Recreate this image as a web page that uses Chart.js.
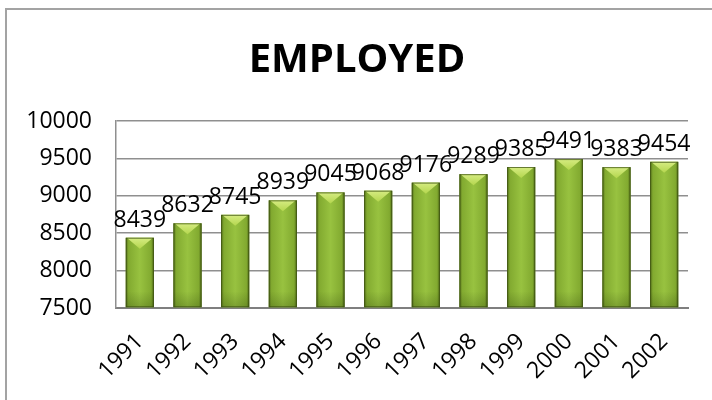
<!DOCTYPE html>
<html>
<head>
<meta charset="utf-8">
<script src="https://cdn.jsdelivr.net/npm/chart.js@4"></script>
<style>
    body { margin: 0; background: #fff; }
    #frame {
        position: absolute; left: 5px; top: 8px; width: 800px; height: 500px;
        border-left: 2px solid #a3a3a3; border-top: 2px solid #a3a3a3;
    }
    #employedChart { position: absolute; left: 0; top: 0; }
</style>
</head>
<body>
<div id="frame"></div>
<canvas id="employedChart" width="712" height="400"></canvas>
<script>
// Chart data
const years = ['1991', '1992', '1993', '1994', '1995', '1996', '1997', '1998', '1999', '2000', '2001', '2002'];
const employed = [8439, 8632, 8745, 8939, 9045, 9068, 9176, 9289, 9385, 9491, 9383, 9454];
const yMin = 7500;
const yMax = 10000;
const yStep = 500;

const FONT = "'Open Sans', sans-serif";

// Paint the bevelled green look over each bar and put value labels on top
const barStylePlugin = {
    id: 'barStyle',
    afterDatasetsDraw(chart) {
        const ctx = chart.ctx;
        const meta = chart.getDatasetMeta(0);
        ctx.save();
        meta.data.forEach((bar, i) => {
            const left = bar.x - bar.width / 2;
            const right = bar.x + bar.width / 2;
            const top = bar.y;
            const bottom = Math.min(bar.base, chart.chartArea.bottom);

            const grad = ctx.createLinearGradient(left, 0, right, 0);
            grad.addColorStop(0, '#56721a');
            grad.addColorStop(0.1, '#82aa30');
            grad.addColorStop(0.5, '#98c240');
            grad.addColorStop(0.9, '#82aa30');
            grad.addColorStop(1, '#516c18');
            ctx.fillStyle = grad;
            ctx.fillRect(left, top, bar.width, bottom - top);

            // darker foot of the bar
            const foot = ctx.createLinearGradient(0, bottom - 16, 0, bottom);
            foot.addColorStop(0, 'rgba(40, 60, 10, 0)');
            foot.addColorStop(1, 'rgba(40, 60, 10, 0.25)');
            ctx.fillStyle = foot;
            ctx.fillRect(left, bottom - 16, bar.width, 16);

            // top bevel
            const bevel = ctx.createLinearGradient(0, top, 0, top + 11);
            bevel.addColorStop(0, '#d6ec82');
            bevel.addColorStop(1, '#b4d64e');
            ctx.fillStyle = bevel;
            ctx.beginPath();
            ctx.moveTo(left + 1, top);
            ctx.lineTo(right - 1, top);
            ctx.lineTo(bar.x, top + 11);
            ctx.closePath();
            ctx.fill();

            ctx.strokeStyle = 'rgba(55, 75, 15, 0.7)';
            ctx.lineWidth = 1;
            ctx.strokeRect(left + 0.5, top + 0.5, bar.width - 1, bottom - top - 1);

            // value label
            ctx.fillStyle = '#000';
            ctx.font = '23px ' + FONT;
            ctx.textAlign = 'center';
            ctx.textBaseline = 'alphabetic';
            ctx.fillText(String(employed[i]), bar.x, top - 11);
        });
        ctx.restore();
    }
};

new Chart(document.getElementById('employedChart'), {
    type: 'bar',
    data: {
        labels: years,
        datasets: [{
            label: 'EMPLOYED',
            data: employed,
            base: yMin,
            backgroundColor: '#9bbb59',
            borderWidth: 0,
            barPercentage: 0.59,
            categoryPercentage: 1.0
        }]
    },
    options: {
        responsive: false,
        animation: false,
        layout: {
            padding: { left: 26, right: 24, top: 0, bottom: 0 }
        },
        plugins: {
            legend: { display: false },
            tooltip: { enabled: false },
            title: {
                display: true,
                text: 'EMPLOYED',
                color: '#000',
                font: { family: FONT, size: 40, weight: 'bold', lineHeight: 1.2 },
                padding: { top: 37, bottom: 36 }
            }
        },
        scales: {
            x: {
                grid: { display: false, drawTicks: false },
                border: { display: true, color: '#7f7f7f', width: 2 },
                ticks: {
                    color: '#000',
                    font: { family: FONT, size: 23 },
                    minRotation: 45,
                    maxRotation: 45,
                    autoSkip: false,
                    padding: 20
                },
                afterFit(scale) { scale.height = 92; }
            },
            y: {
                min: yMin,
                max: yMax,
                grid: { color: '#8f8f8f', lineWidth: 1.5, drawTicks: false },
                border: { display: true, color: '#8f8f8f', width: 1.5 },
                ticks: {
                    stepSize: yStep,
                    color: '#000',
                    font: { family: FONT, size: 23 },
                    padding: 24,
                    callback: v => String(v)
                },
                afterFit(scale) { scale.width = 90; }
            }
        }
    },
    plugins: [barStylePlugin]
});
</script>
</body>
</html>
